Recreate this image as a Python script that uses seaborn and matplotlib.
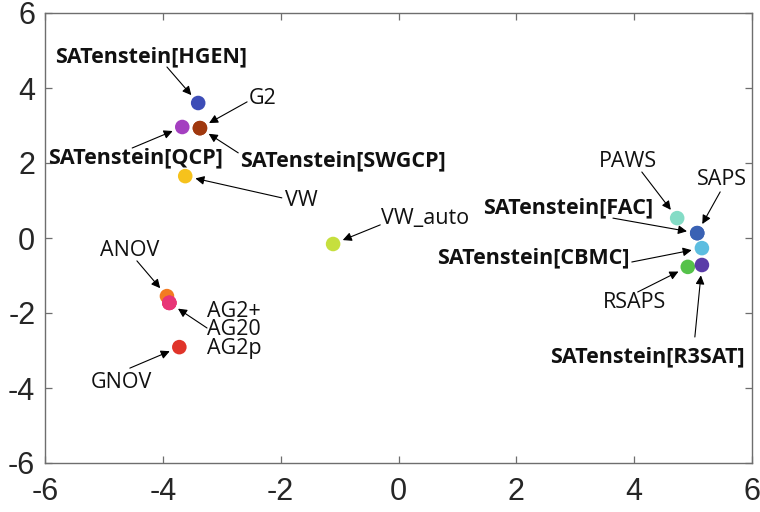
import matplotlib
matplotlib.use("Agg")
import matplotlib.pyplot as plt
from matplotlib import font_manager
import seaborn as sns
import pandas as pd

# ---- data ----
names = ["SATenstein[HGEN]", "G2", "SATenstein[QCP]", "SATenstein[SWGCP]", "VW", "VW_auto",
         "PAWS", "SAPS", "SATenstein[FAC]", "SATenstein[CBMC]", "RSAPS", "SATenstein[R3SAT]",
         "ANOV", "AG2+", "AG20", "AG2p", "GNOV"]
x_vals = [-3.40, -3.37, -3.67, -3.37, -3.62, -1.11,
          4.73, 5.07, 5.07, 5.15, 4.91, 5.15,
          -3.93, -3.89, -3.89, -3.89, -3.72]
y_vals = [3.60, 2.93, 2.96, 2.93, 1.65, -0.16,
          0.53, 0.13, 0.13, -0.27, -0.77, -0.72,
          -1.55, -1.73, -1.73, -1.73, -2.91]
colors = ["#3d4db7", "#a0380e", "#a43fc0", "#a0380e", "#f6c21c", "#c6df3e",
          "#84dcc6", "#3a62b4", "#3a62b4", "#5cbde0", "#55c24a", "#5a3ca8",
          "#f37b22", "#e83577", "#e83577", "#e83577", "#e0342a"]
bold = [True, False, True, True, False, False,
        False, False, True, True, False, True,
        False, False, False, False, False]
x_ticks = [-6, -4, -2, 0, 2, 4, 6]
y_ticks = [-6, -4, -2, 0, 2, 4, 6]
# names sharing one stacked label
ag_group = ["AG2+", "AG20", "AG2p"]

df = pd.DataFrame({"name": names, "x": x_vals, "y": y_vals})

# ---- layout (label positions and arrow starts, in data units) ----
label_pos = {
    "SATenstein[HGEN]": (-4.20, 4.83, "center"),
    "G2": (-2.55, 3.73, "left"),
    "SATenstein[QCP]": (-4.47, 2.13, "center"),
    "SATenstein[SWGCP]": (-0.94, 2.05, "center"),
    "VW": (-1.65, 1.01, "center"),
    "VW_auto": (-0.30, 0.53, "left"),
    "PAWS": (3.90, 2.03, "center"),
    "SAPS": (5.49, 1.55, "center"),
    "SATenstein[FAC]": (2.88, 0.80, "center"),
    "SATenstein[CBMC]": (2.28, -0.53, "center"),
    "RSAPS": (4.00, -1.73, "center"),
    "SATenstein[R3SAT]": (4.23, -3.17, "center"),
    "ANOV": (-4.56, -0.32, "center"),
    "AG20": (-3.25, -2.45, "left"),
    "GNOV": (-4.71, -3.84, "center"),
}
arrow_start = {
    "SATenstein[HGEN]": (-3.93, 4.56),
    "G2": (-2.57, 3.63),
    "SATenstein[QCP]": (-4.52, 2.40),
    "SATenstein[SWGCP]": (-2.72, 2.27),
    "VW": (-1.98, 1.07),
    "VW_auto": (-0.31, 0.35),
    "PAWS": (4.13, 1.76),
    "SAPS": (5.46, 1.23),
    "SATenstein[FAC]": (3.64, 0.53),
    "SATenstein[CBMC]": (3.96, -0.64),
    "RSAPS": (4.06, -1.44),
    "SATenstein[R3SAT]": (5.03, -2.64),
    "ANOV": (-4.44, -0.61),
    "AG20": (-3.25, -2.40),
    "GNOV": (-4.56, -3.47),
}

sns.set_theme(style="white")
avail = {f.name for f in font_manager.fontManager.ttflist}
tick_font = "Liberation Sans Narrow" if "Liberation Sans Narrow" in avail else "Liberation Sans"
label_font = "Open Sans" if "Open Sans" in avail else "DejaVu Sans"
plt.rcParams["font.family"] = [label_font, "DejaVu Sans"]

fig = plt.figure(figsize=(7.6, 5.12), dpi=100)
ax = fig.add_axes([45 / 760, 1 - 463 / 512, (752 - 45) / 760, (463 - 13) / 512])

palette = dict(zip(names, colors))
sns.scatterplot(data=df, x="x", y="y", hue="name", palette=palette, s=110,
                edgecolor="none", legend=False, ax=ax, zorder=3)

ax.set_xlim(-6, 6)
ax.set_ylim(-6, 6)
ax.set_xticks(x_ticks)
ax.set_yticks(y_ticks)
ax.set_xticklabels([str(t) for t in x_ticks])
ax.set_yticklabels([str(t) for t in y_ticks])
ax.set_xlabel("")
ax.set_ylabel("")
ax.tick_params(direction="in", length=5, width=0.9, color="#6e6e6e",
               top=True, right=True, bottom=True, left=True,
               labelsize=22, labelcolor="#262626")
ax.tick_params(axis="x", pad=10)
ax.tick_params(axis="y", pad=7)
for lab in ax.get_xticklabels() + ax.get_yticklabels():
    lab.set_fontfamily(tick_font)
for sp in ax.spines.values():
    sp.set_color("#6e6e6e")
    sp.set_linewidth(1.0)
    sp.set_visible(True)

for n, xv, yv, b in zip(names, x_vals, y_vals, bold):
    if n in label_pos:
        tx, ty, ha = label_pos[n]
        txt = "\n".join(ag_group) if n == "AG20" else n
        ax.text(tx, ty, txt, ha=ha, va="center", fontsize=15.5, linespacing=0.84,
                fontweight="bold" if b else "normal", color="#111111", zorder=4)
    if n in arrow_start:
        sx, sy = arrow_start[n]
        ax.annotate("", xy=(xv, yv), xytext=(sx, sy),
                    arrowprops=dict(arrowstyle="-|>", color="black", lw=0.8,
                                    mutation_scale=13, shrinkA=0, shrinkB=7.5),
                    zorder=4)

fig.savefig("out.png", dpi=100)
